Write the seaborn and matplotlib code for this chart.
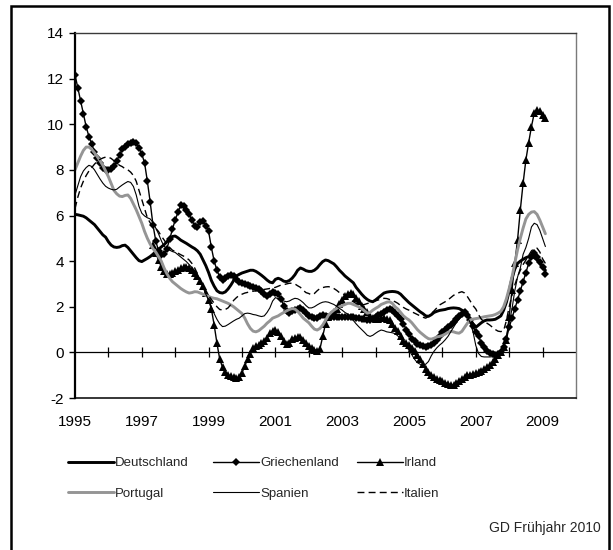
import numpy as np
import pandas as pd
import matplotlib
matplotlib.use("Agg")
import matplotlib.pyplot as plt
from matplotlib.patches import Rectangle
import seaborn as sns

nan = np.nan

# Monthly values, January 1995 to February 2009 (one row per year)
deutschland = [
    6.05, 6.03, 6.00, 5.97, 5.90, 5.80, 5.70, 5.60, 5.45, 5.30, 5.15, 5.05,
    4.85, 4.70, 4.62, 4.60, 4.62, 4.68, 4.70, 4.60, 4.45, 4.30, 4.15, 4.02,
    3.98, 4.05, 4.12, 4.20, 4.30, 4.42, 4.52, 4.62, 4.72, 4.85, 4.98, 5.08,
    5.10, 5.02, 4.92, 4.85, 4.78, 4.70, 4.62, 4.55, 4.45, 4.30, 4.05, 3.80,
    3.50, 3.15, 2.90, 2.70, 2.62, 2.60, 2.65, 2.78, 2.95, 3.15, 3.35, 3.42,
    3.48, 3.52, 3.56, 3.60, 3.60, 3.55, 3.47, 3.38, 3.28, 3.17, 3.08, 3.05,
    3.20, 3.25, 3.20, 3.12, 3.10, 3.15, 3.25, 3.40, 3.60, 3.70, 3.65, 3.58,
    3.55, 3.55, 3.60, 3.70, 3.85, 3.98, 4.05, 4.02, 3.95, 3.88, 3.75, 3.60,
    3.48, 3.35, 3.25, 3.15, 3.05, 2.85, 2.70, 2.55, 2.42, 2.32, 2.25, 2.22,
    2.30, 2.40, 2.50, 2.60, 2.64, 2.66, 2.67, 2.66, 2.63, 2.55, 2.42, 2.30,
    2.18, 2.08, 1.98, 1.88, 1.78, 1.70, 1.60, 1.58, 1.65, 1.75, 1.80, 1.84,
    1.86, 1.88, 1.92, 1.94, 1.95, 1.94, 1.92, 1.85, 1.78, 1.65, 1.45, 1.25,
    1.10, 1.20, 1.30, 1.38, 1.42, 1.42, 1.43, 1.45, 1.52, 1.60, 1.85, 2.20,
    2.70, 3.25, 3.65, 3.90, 4.00, 4.08, 4.15, 4.20, 4.20, 4.15, 4.05, 3.90,
    3.75, 3.60,
]

griechenland = [
    12.17, 11.60, 11.03, 10.44, 9.90, 9.46, 9.14, 8.80, 8.52, 8.29, 8.07, 8.00,
    8.00, 8.05, 8.15, 8.40, 8.65, 8.90, 9.02, 9.12, 9.20, 9.24, 9.18, 8.95,
    8.70, 8.30, 7.50, 6.60, 5.60, 4.90, 4.45, 4.25, 4.30, 4.55, 4.95, 5.40,
    5.80, 6.15, 6.45, 6.40, 6.25, 6.05, 5.80, 5.55, 5.50, 5.70, 5.75, 5.55,
    5.30, 4.60, 4.00, 3.60, 3.30, 3.18, 3.25, 3.35, 3.40, 3.35, 3.20, 3.10,
    3.05, 3.00, 2.95, 2.92, 2.88, 2.82, 2.78, 2.70, 2.55, 2.45, 2.55, 2.65,
    2.60, 2.55, 2.35, 2.05, 1.80, 1.72, 1.80, 1.86, 1.90, 1.93, 1.85, 1.72,
    1.60, 1.55, 1.50, 1.52, 1.58, 1.64, 1.60, 1.57, 1.56, 1.57, 1.57, 1.57,
    1.57, 1.56, 1.57, 1.56, 1.55, 1.52, 1.50, 1.48, 1.46, 1.43, 1.42, 1.48,
    1.55, 1.62, 1.70, 1.78, 1.85, 1.90, 1.85, 1.72, 1.60, 1.45, 1.25, 1.00,
    0.80, 0.60, 0.48, 0.38, 0.32, 0.28, 0.25, 0.27, 0.33, 0.42, 0.55, 0.72,
    0.88, 1.00, 1.12, 1.22, 1.32, 1.45, 1.58, 1.70, 1.75, 1.65, 1.42, 1.15,
    0.90, 0.70, 0.42, 0.22, 0.05, -0.04, -0.08, -0.11, -0.08, 0.00, 0.25, 0.60,
    1.10, 1.50, 1.90, 2.30, 2.70, 3.10, 3.50, 3.90, 4.20, 4.35, 4.20, 3.95,
    3.75, 3.45,
]

irland = [nan] * 28 + [
    4.70, 4.35, 4.05, 3.75, 3.55, 3.45, 3.42, 3.48,
    3.55, 3.62, 3.68, 3.74, 3.76, 3.72, 3.62, 3.50, 3.35, 3.15, 2.90, 2.60,
    2.30, 1.90, 1.20, 0.40, -0.30, -0.65, -0.85, -0.98, -1.05, -1.10, -1.14, -1.10,
    -0.90, -0.60, -0.30, -0.05, 0.18, 0.27, 0.32, 0.40, 0.50, 0.62, 0.85, 0.95,
    0.98, 0.88, 0.72, 0.50, 0.35, 0.42, 0.58, 0.65, 0.66, 0.68, 0.55, 0.40,
    0.28, 0.18, 0.12, 0.08, 0.15, 0.70, 1.25, 1.55, 1.62, 1.75, 1.90, 2.10,
    2.30, 2.45, 2.58, 2.62, 2.55, 2.40, 2.25, 2.05, 1.90, 1.75, 1.60, 1.50,
    1.45, 1.45, 1.50, 1.52, 1.48, 1.40, 1.25, 1.05, 0.95, 0.72, 0.52, 0.42,
    0.32, 0.20, 0.05, -0.12, -0.30, -0.50, -0.72, -0.88, -0.98, -1.07, -1.15, -1.22,
    -1.27, -1.33, -1.38, -1.42, -1.43, -1.35, -1.25, -1.18, -1.08, -1.00, -0.97, -0.94,
    -0.92, -0.88, -0.82, -0.75, -0.65, -0.55, -0.42, -0.28, -0.12, 0.03, 0.25, 0.54,
    1.57, 2.74, 3.90, 4.93, 6.25, 7.42, 8.44, 9.20, 9.90, 10.49, 10.63, 10.56,
    10.41, 10.27,
]

portugal = [
    8.00, 8.30, 8.60, 8.85, 9.00, 9.00, 8.90, 8.75, 8.58, 8.40, 8.20, 7.95,
    7.70, 7.40, 7.10, 6.95, 6.85, 6.83, 6.88, 6.90, 6.75, 6.50, 6.25, 5.95,
    5.66, 5.30, 5.00, 4.75, 4.55, 4.40, 4.20, 4.00, 3.70, 3.45, 3.25, 3.10,
    3.00, 2.90, 2.80, 2.72, 2.65, 2.60, 2.62, 2.66, 2.65, 2.60, 2.55, 2.50,
    2.45, 2.40, 2.37, 2.35, 2.30, 2.25, 2.20, 2.15, 2.08, 2.00, 1.90, 1.80,
    1.70, 1.50, 1.25, 1.05, 0.93, 0.90, 0.95, 1.05, 1.15, 1.28, 1.38, 1.50,
    1.55, 1.60, 1.68, 1.75, 1.82, 1.88, 1.92, 1.90, 1.80, 1.65, 1.50, 1.40,
    1.30, 1.15, 1.02, 0.98, 1.05, 1.20, 1.40, 1.62, 1.75, 1.85, 1.93, 2.00,
    2.05, 2.10, 2.15, 2.15, 2.10, 2.05, 2.00, 1.92, 1.82, 1.72, 1.75, 1.85,
    1.93, 2.00, 2.10, 2.15, 2.20, 2.22, 2.15, 2.00, 1.90, 1.75, 1.60, 1.50,
    1.42, 1.30, 1.15, 1.00, 0.88, 0.78, 0.68, 0.60, 0.58, 0.62, 0.68, 0.70,
    0.74, 0.80, 0.88, 0.92, 0.90, 0.86, 0.84, 0.92, 1.10, 1.28, 1.42, 1.46,
    1.48, 1.50, 1.53, 1.56, 1.58, 1.60, 1.62, 1.66, 1.72, 1.80, 2.00, 2.35,
    2.80, 3.30, 3.90, 4.50, 5.00, 5.45, 5.85, 6.05, 6.15, 6.17, 6.05, 5.80,
    5.50, 5.20,
]

spanien = [
    6.90, 7.30, 7.70, 7.95, 8.10, 8.20, 8.15, 8.00, 7.80, 7.60, 7.42, 7.28,
    7.20, 7.15, 7.12, 7.15, 7.25, 7.34, 7.42, 7.49, 7.45, 7.27, 6.90, 6.40,
    6.10, 5.98, 5.90, 5.85, 5.70, 5.45, 5.20, 4.90, 4.65, 4.55, 4.48, 4.42,
    4.38, 4.28, 4.18, 4.08, 3.98, 3.85, 3.72, 3.58, 3.35, 3.10, 2.85, 2.55,
    2.30, 2.00, 1.70, 1.45, 1.25, 1.13, 1.15, 1.22, 1.30, 1.38, 1.45, 1.50,
    1.60, 1.70, 1.72, 1.70, 1.66, 1.64, 1.60, 1.57, 1.60, 1.75, 1.95, 2.25,
    2.40, 2.35, 2.30, 2.25, 2.22, 2.25, 2.32, 2.37, 2.35, 2.28, 2.18, 2.05,
    1.95, 1.95, 2.00, 2.08, 2.15, 2.20, 2.22, 2.20, 2.15, 2.10, 2.02, 1.93,
    1.85, 1.75, 1.68, 1.55, 1.40, 1.25, 1.12, 1.00, 0.88, 0.75, 0.70, 0.75,
    0.84, 0.92, 0.98, 0.95, 0.90, 0.88, 0.86, 0.82, 0.72, 0.60, 0.45, 0.25,
    0.10, -0.10, -0.30, -0.45, -0.52, -0.55, -0.52, -0.40, -0.15, 0.05, 0.20, 0.32,
    0.42, 0.55, 0.70, 0.90, 1.10, 1.30, 1.45, 1.58, 1.64, 1.55, 1.30, 0.90,
    0.30, -0.05, -0.18, -0.20, -0.20, -0.20, -0.19, -0.18, -0.10, 0.10, 0.30, 0.70,
    1.30, 1.90, 2.70, 3.30, 3.70, 4.30, 4.60, 5.00, 5.50, 5.66, 5.60, 5.35,
    5.00, 4.64,
]

italien = [
    6.30, 6.80, 7.20, 7.50, 7.75, 7.95, 8.10, 8.25, 8.38, 8.46, 8.52, 8.56,
    8.56, 8.50, 8.40, 8.30, 8.20, 8.14, 8.05, 8.00, 7.90, 7.75, 7.50, 7.10,
    6.70, 6.30, 5.90, 5.68, 5.55, 5.44, 5.30, 5.10, 4.93, 4.75, 4.60, 4.48,
    4.42, 4.35, 4.28, 4.22, 4.15, 4.05, 3.90, 3.70, 3.45, 3.15, 2.88, 2.65,
    2.48, 2.32, 2.15, 2.00, 1.88, 1.86, 1.88, 1.95, 2.10, 2.28, 2.40, 2.50,
    2.55, 2.60, 2.63, 2.66, 2.68, 2.70, 2.72, 2.74, 2.76, 2.78, 2.80, 2.82,
    2.85, 2.90, 2.95, 2.97, 3.00, 3.03, 3.03, 3.00, 2.92, 2.85, 2.72, 2.62,
    2.58, 2.52, 2.58, 2.70, 2.80, 2.84, 2.87, 2.88, 2.86, 2.80, 2.72, 2.62,
    2.58, 2.52, 2.42, 2.30, 2.22, 2.15, 2.10, 2.08, 2.10, 2.14, 2.18, 2.22,
    2.26, 2.30, 2.34, 2.37, 2.36, 2.32, 2.27, 2.22, 2.15, 2.05, 1.97, 1.90,
    1.85, 1.78, 1.72, 1.66, 1.60, 1.54, 1.50, 1.58, 1.70, 1.82, 1.95, 2.08,
    2.15, 2.22, 2.30, 2.40, 2.50, 2.56, 2.62, 2.66, 2.60, 2.44, 2.25, 2.05,
    1.90, 1.65, 1.45, 1.35, 1.28, 1.20, 1.10, 1.00, 0.93, 0.91, 0.95, 1.40,
    2.00, 2.50, 2.95, 3.32, 3.60, 3.85, 4.05, 4.25, 4.45, 4.55, 4.57, 4.40,
    4.10, 3.90,
]

x_tick_years = [1995, 1997, 1999, 2001, 2003, 2005, 2007, 2009]
x_tick_labels = ["1995", "1997", "1999", "2001", "2003", "2005", "2007", "2009"]
y_ticks = [-2, 0, 2, 4, 6, 8, 10, 12, 14]
year_marks = list(range(1996, 2010))

n_months = len(deutschland)
df = pd.DataFrame({
    "Jahr": 1995 + np.arange(n_months) / 12.0,
    "Deutschland": deutschland,
    "Griechenland": griechenland,
    "Irland": irland,
    "Portugal": portugal,
    "Spanien": spanien,
    "Italien": italien,
})

sns.set_style("white")
plt.rcParams["font.family"] = ["Liberation Sans", "DejaVu Sans"]

W, H = 613, 550
fig = plt.figure(figsize=(W / 100, H / 100), dpi=100)
ax = fig.add_axes([75 / W, 1 - 398 / H, 501 / W, 365 / H])

styles = {
    "Deutschland": dict(color="black", lw=2.1),
    "Griechenland": dict(color="black", lw=1.0, marker="D", markersize=4.2,
                         markeredgewidth=0),
    "Irland": dict(color="black", lw=1.0, marker="^", markersize=5.2,
                   markeredgewidth=0),
    "Portugal": dict(color="#959595", lw=2.1),
    "Spanien": dict(color="black", lw=0.8),
    "Italien": dict(color="black", lw=1.0, linestyle=(0, (5, 3))),
}

handles = {}
for name, st in styles.items():
    sns.lineplot(data=df, x="Jahr", y=name, ax=ax, legend=False, **st)
    handles[name] = ax.lines[-1]

# zero line with yearly cross ticks
ax.axhline(0, color="black", lw=0.9, zorder=1)
ax.plot(year_marks, [0] * len(year_marks), ls="none", marker="|",
        markersize=7, markeredgewidth=0.9, color="black", zorder=1)

ax.set_xlim(1995, 2010)
ax.set_ylim(-2, 14)
ax.set_xticks(x_tick_years)
ax.set_xticklabels(x_tick_labels)
ax.set_yticks(y_ticks)
ax.set_yticklabels([str(v) for v in y_ticks])
ax.set_xlabel("")
ax.set_ylabel("")
ax.tick_params(axis="x", length=0, pad=12, labelsize=11, colors="black")
ax.tick_params(axis="y", direction="out", length=4.5, width=1.0, pad=3.5,
               labelsize=11, colors="black", left=True)

for side, (col, lw) in {"left": ("black", 1.6), "bottom": ("black", 1.1),
                        "top": ("#3a3a3a", 1.0), "right": ("#7a7a7a", 1.0)}.items():
    ax.spines[side].set_visible(True)
    ax.spines[side].set_color(col)
    ax.spines[side].set_linewidth(lw)

# legend: three columns of two entries each
columns = [(68, ["Deutschland", "Portugal"]),
           (213, ["Griechenland", "Spanien"]),
           (357, ["Irland", "Italien"])]
for x0, names in columns:
    fig.legend([handles[n] for n in names], names, loc="center left",
               bbox_to_anchor=(x0 / W, 1 - 478.5 / H), frameon=False,
               borderpad=0, borderaxespad=0, handlelength=3.45,
               handletextpad=0.12, labelspacing=1.4, numpoints=1,
               fontsize=9.5)

fig.text(601 / W, 1 - 528 / H, "GD Frühjahr 2010", ha="right", va="center",
         fontsize=10)

fig.patches.append(Rectangle((11 / W, -0.05), 598 / W, 1 - 6 / H + 0.05,
                             transform=fig.transFigure, fill=False,
                             edgecolor="black", linewidth=1.8))

fig.savefig("out.png", dpi=100)
